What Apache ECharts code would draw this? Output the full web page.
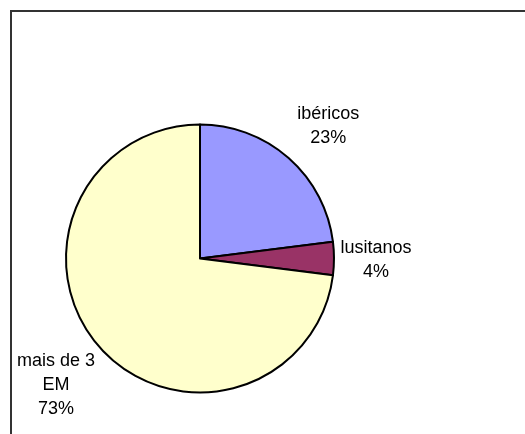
<!DOCTYPE html>
<html>
<head>
<meta charset="utf-8">
<script src="https://cdn.jsdelivr.net/npm/echarts@6/dist/echarts.min.js"></script>
<style>
  html, body { margin: 0; padding: 0; background: #fff; }
  #chart { width: 525px; height: 434px; }
</style>
</head>
<body>
<div id="chart"></div>
<script>
// data
const categories = ['ibéricos', 'lusitanos', 'mais de 3\nEM']
const percents = [23, 4, 73]
const colors = ['#9999FF', '#993366', '#FFFFCC']

// layout
const center = [200, 258.5]
const radius = 134
const labelGap = [51, 42, 58] // distance from pie edge to label centre
const labelNudge = [[6, 6], [0, 2], [0, 0]]

const total = percents.reduce((a, b) => a + b, 0)
const midAngle = i => {
  let before = 0
  for (let k = 0; k < i; k++) before += percents[k]
  return (before + percents[i] / 2) / total * Math.PI * 2
}

const chart = echarts.init(document.getElementById('chart'))
const option = {
  animation: false,
  graphic: [{
    type: 'rect',
    shape: { x: 11, y: 11, width: 700, height: 700 },
    style: { fill: 'none', stroke: '#333', lineWidth: 2 },
    silent: true
  }],
  series: [{
    type: 'pie',
    center: center,
    radius: radius,
    startAngle: 90,
    clockwise: true,
    itemStyle: {
      borderColor: '#000',
      borderWidth: 2
    },
    label: {
      show: true,
      position: 'outside',
      formatter: p => p.name + '\n' + p.value + '%',
      fontFamily: 'Liberation Sans, Arial, sans-serif',
      fontSize: 18,
      lineHeight: 24,
      color: '#000',
      align: 'center',
      overflow: 'none'
    },
    edgeDistance: 0,
    bleedMargin: 0,
    labelLine: { show: false },
    labelLayout: params => {
      const i = params.dataIndex
      const a = midAngle(i)
      const d = radius + labelGap[i]
      return {
        x: center[0] + d * Math.sin(a) + labelNudge[i][0],
        y: center[1] - d * Math.cos(a) + labelNudge[i][1],
        align: 'center',
        verticalAlign: 'middle'
      }
    },
    emphasis: { disabled: true },
    data: categories.map((name, i) => ({
      name: name,
      value: percents[i],
      itemStyle: { color: colors[i] }
    }))
  }]
}
chart.setOption(option)
</script>
</body>
</html>
